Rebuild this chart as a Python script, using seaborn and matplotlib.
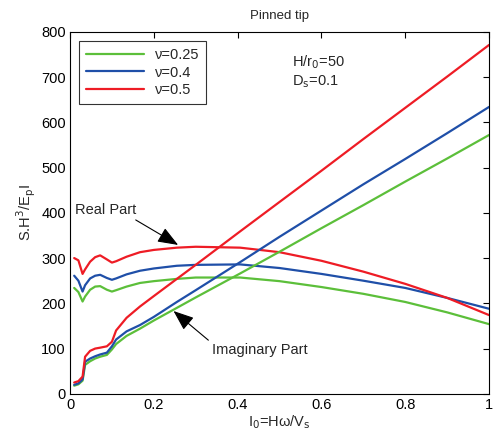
import numpy as np
import pandas as pd
import matplotlib
matplotlib.use("Agg")
import matplotlib.pyplot as plt
import seaborn as sns

freq = [0.01, 0.02, 0.03, 0.036, 0.048, 0.06, 0.072, 0.088, 0.1, 0.11, 0.135,
        0.167, 0.2, 0.255, 0.3, 0.406, 0.5, 0.6, 0.7, 0.8, 0.9, 1.0]

real_025 = [234, 225, 204, 215, 230, 237, 238, 230, 226, 229, 237,
            245, 249, 254, 257, 257, 249, 236, 221, 203, 180, 154]
real_04 = [261, 250, 226, 240, 255, 261, 263, 256, 252, 255, 264,
           272, 277, 283, 285, 286, 278, 265, 250, 234, 212, 188]
real_05 = [300, 295, 265, 275, 292, 302, 306, 297, 290, 293, 303,
           313, 318, 323, 325, 323, 313, 294, 270, 243, 212, 174]

imag_025 = [18, 21, 29, 64, 72, 78, 82, 86, 98, 110, 128,
            144, 162, 190, 213, 266, 314, 366, 417, 469, 520, 572]
imag_04 = [20, 23, 32, 71, 78, 83, 87, 91, 105, 120, 138,
           152, 170, 203, 229, 291, 347, 405, 463, 519, 576, 634]
imag_05 = [25, 28, 38, 82, 95, 100, 102, 105, 115, 140, 168,
           193, 216, 254, 285, 359, 424, 493, 563, 632, 701, 771]

labels = ["\u03bd=0.25", "\u03bd=0.4", "\u03bd=0.5"]
colors = ["#5cbf3a", "#1f4fa8", "#ee1c25"]

rows = []
for lab, r, im in zip(labels, [real_025, real_04, real_05], [imag_025, imag_04, imag_05]):
    for f, rv, iv in zip(freq, r, im):
        rows.append({"f": f, "val": rv, "part": "Real", "nu": lab})
        rows.append({"f": f, "val": iv, "part": "Imag", "nu": lab})
df = pd.DataFrame(rows)

sns.set_style("white")
plt.rcParams['font.family'] = ['Liberation Sans', 'DejaVu Sans']

fig = plt.figure(figsize=(4.93, 4.42), dpi=100)
ax = fig.add_axes([0.142, 0.109, 0.85, 0.819])

pal = dict(zip(labels, colors))
sns.lineplot(data=df[df.part == "Real"], x="f", y="val", hue="nu", hue_order=labels,
             palette=pal, ax=ax, linewidth=1.6, legend=True, estimator=None, sort=True)
sns.lineplot(data=df[df.part == "Imag"], x="f", y="val", hue="nu", hue_order=labels,
             palette=pal, ax=ax, linewidth=1.6, legend=False, estimator=None, sort=True)

ax.set_xlim(0, 1)
ax.set_ylim(0, 800)
ax.set_xticks([0, 0.2, 0.4, 0.6, 0.8, 1])
ax.set_xticklabels(["0", "0.2", "0.4", "0.6", "0.8", "1"])
ax.set_yticks(range(0, 801, 100))
ax.tick_params(direction="in", top=True, right=True, labelsize=10.5, length=4, width=0.8,
               colors="black", pad=3)
for s in ax.spines.values():
    s.set_visible(True)
    s.set_color("black")
    s.set_linewidth(0.8)

ax.set_xlabel("I$_0$=H\u03c9/V$_\\mathrm{s}$", fontsize=10.5, labelpad=1)
ax.set_ylabel("S.H$^3$/E$_\\mathrm{p}$I", fontsize=10.5, labelpad=2)
ax.set_title("Pinned tip", fontsize=9.5, pad=9)

leg = ax.legend(loc="upper left", fontsize=10.5, frameon=True, fancybox=False,
                edgecolor="black", borderaxespad=0.6, handlelength=4.0,
                labelspacing=0.25, borderpad=0.5, handletextpad=0.7)
leg.get_frame().set_linewidth(0.8)
leg.set_title(None)

ax.text(0.53, 733, "H/r$_0$=50", fontsize=10.5, va="center")
ax.text(0.53, 690, "D$_\\mathrm{s}$=0.1", fontsize=10.5, va="center")

ax.annotate("Real Part", xy=(0.258, 329), xytext=(0.012, 407), fontsize=10.5,
            va="center", ha="left",
            arrowprops=dict(arrowstyle="-|>,head_length=0.9,head_width=0.35",
                            color="black", lw=0.8,
                            mutation_scale=14, shrinkA=0, shrinkB=0,
                            relpos=(0.9, 0.0)))
ax.annotate("Imaginary Part", xy=(0.247, 183), xytext=(0.338, 97), fontsize=10.5,
            va="center", ha="left",
            arrowprops=dict(arrowstyle="-|>,head_length=0.9,head_width=0.35",
                            color="black", lw=0.8,
                            mutation_scale=14, shrinkA=0, shrinkB=0,
                            relpos=(0.0, 1.0)))

fig.savefig("out.png", dpi=100)
